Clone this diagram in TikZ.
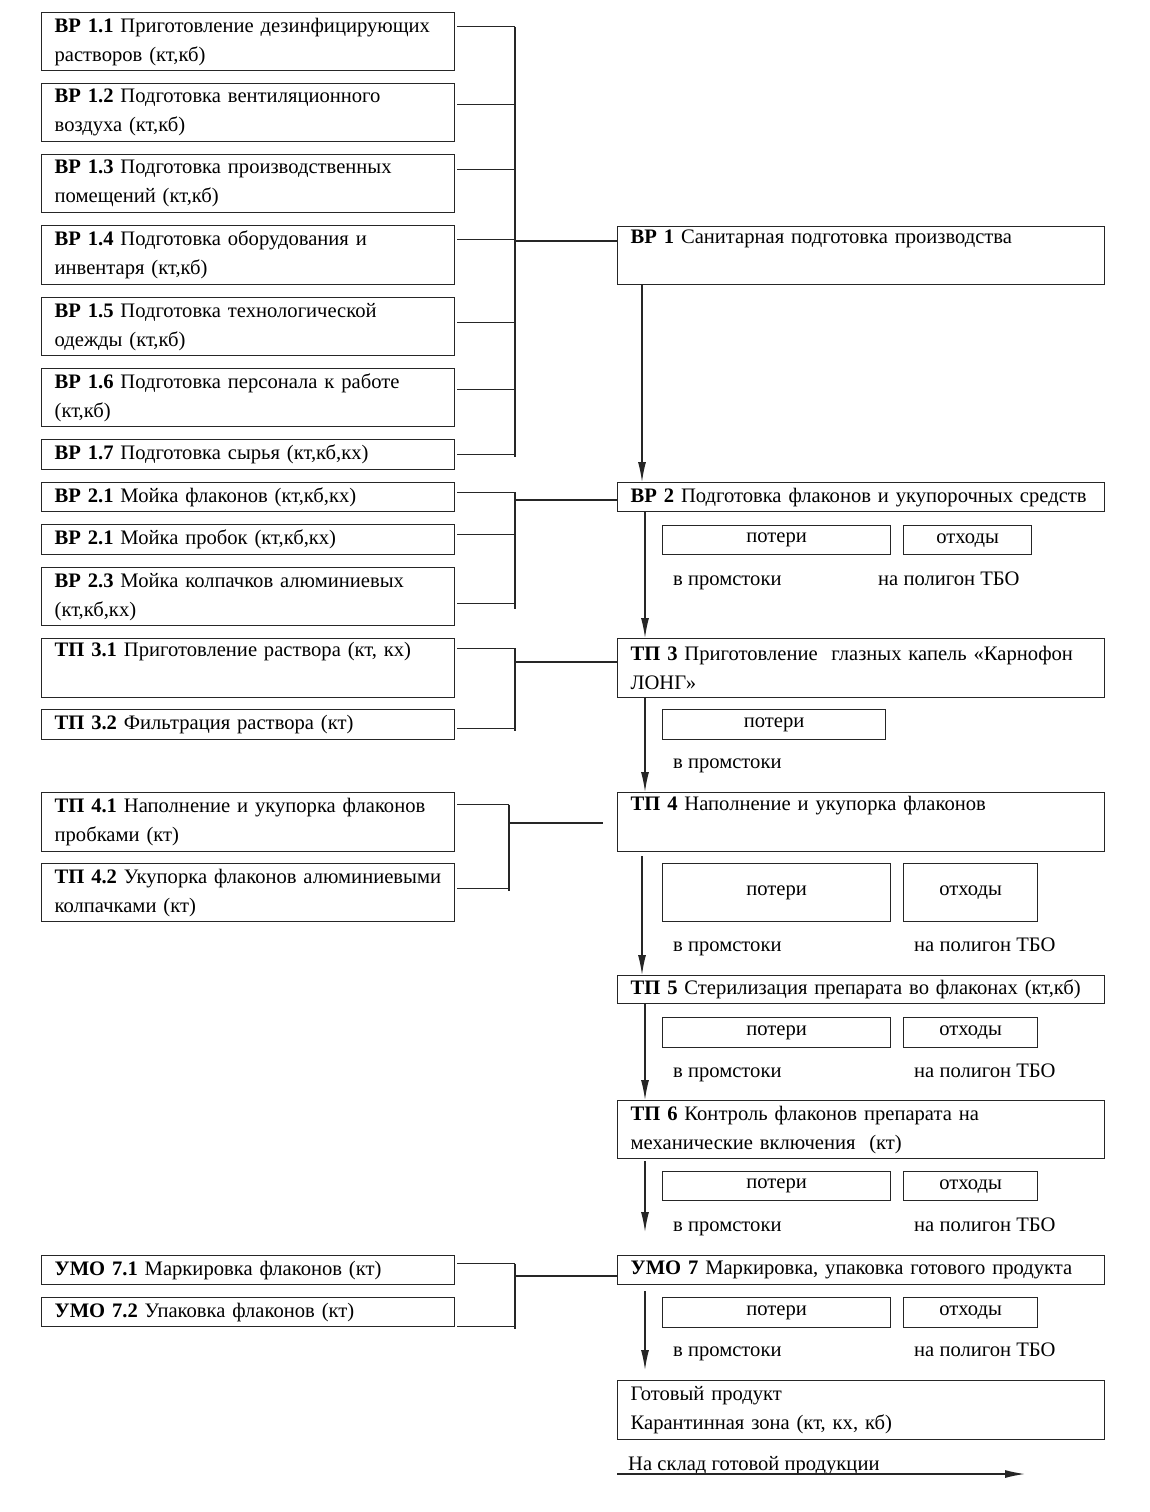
\documentclass[tikz,border=0pt]{standalone}
\usepackage{fontspec}
\setmainfont{Liberation Serif}
\usetikzlibrary{arrows.meta}

\begin{document}
\begin{tikzpicture}[x=1pt,y=-1pt,
  every node/.style={font=\fontsize{20.6}{29}\selectfont},
  sbox/.style={draw=black!85,line width=1.3pt,rectangle,anchor=north west,
    align=left,inner xsep=13pt,inner ysep=0pt,text width=387pt},
  mbox/.style={sbox,text width=461pt},
  lbox/.style={draw=black!85,line width=1.3pt,rectangle,anchor=north west,
    inner sep=0pt,align=center},
  lab/.style={anchor=base west,inner sep=0pt},
  link/.style={draw=black!85,line width=1.3pt},
  flow/.style={link,-{Latex[length=20pt,width=8pt]}}]
\useasboundingbox (0,0) rectangle (1149,1512);

% left column
\node[sbox,minimum height=58pt] (b11) at (41,12) {\textbf{ВР 1.1} Приготовление дезинфицирующих\\растворов (кт,кб)};
\node[sbox,minimum height=58pt] (b12) at (41,83) {\textbf{ВР 1.2} Подготовка вентиляционного\\воздуха (кт,кб)};
\node[sbox,minimum height=58pt] (b13) at (41,154) {\textbf{ВР 1.3} Подготовка производственных\\помещений (кт,кб)};
\node[sbox,minimum height=59pt] (b14) at (41,225) {\textbf{ВР 1.4} Подготовка оборудования и\\инвентаря (кт,кб)};
\node[sbox,minimum height=58pt] (b15) at (41,297) {\textbf{ВР 1.5} Подготовка технологической\\одежды (кт,кб)};
\node[sbox,minimum height=58pt] (b16) at (41,368) {\textbf{ВР 1.6} Подготовка персонала к работе\\(кт,кб)};
\node[sbox,minimum height=30pt] (b17) at (41,439) {\textbf{ВР 1.7} Подготовка сырья (кт,кб,кх)};
\node[sbox,minimum height=29pt] (b21) at (41,482) {\textbf{ВР 2.1} Мойка флаконов (кт,кб,кх)};
\node[sbox,minimum height=30pt] (b22) at (41,524) {\textbf{ВР 2.1} Мойка пробок (кт,кб,кх)};
\node[sbox,minimum height=58pt] (b23) at (41,567) {\textbf{ВР 2.3} Мойка колпачков алюминиевых\\(кт,кб,кх)};
\node[sbox,minimum height=59pt] (t31) at (41,638) {\textbf{ТП 3.1} Приготовление раствора (кт, кх)\\\strut};
\node[sbox,minimum height=30pt] (t32) at (41,709) {\textbf{ТП 3.2} Фильтрация раствора (кт)};
\node[sbox,minimum height=59pt] (t41) at (41,792) {\textbf{ТП 4.1} Наполнение и укупорка флаконов\\пробками (кт)};
\node[sbox,minimum height=58pt] (t42) at (41,863) {\mbox{\textbf{ТП 4.2} Укупорка флаконов алюминиевыми}\\колпачками (кт)};
\node[sbox,minimum height=29pt] (u71) at (41,1255) {\textbf{УМО 7.1} Маркировка флаконов (кт)};
\node[sbox,minimum height=29pt] (u72) at (41,1297) {\textbf{УМО 7.2} Упаковка флаконов (кт)};

% main stages
\node[mbox,minimum height=58pt] (b1) at (617,226) {\textbf{ВР 1} Санитарная подготовка производства\\\strut};
\node[mbox,minimum height=29pt] (b2) at (617,482) {\mbox{\textbf{ВР 2} Подготовка флаконов и укупорочных средств}};
\node[mbox,minimum height=59pt] (t3) at (617,638) {\textbf{ТП 3} Приготовление\ \ глазных капель «Карнофон\\ЛОНГ»};
\node[mbox,minimum height=59pt] (t4) at (617,792) {\textbf{ТП 4} Наполнение и укупорка флаконов\\\strut};
\node[mbox,minimum height=28pt] (t5) at (617,975) {\mbox{\textbf{ТП 5} Стерилизация препарата во флаконах (кт,кб)}};
\node[mbox,minimum height=58pt] (t6) at (617,1100) {\textbf{ТП 6} Контроль флаконов препарата на\\механические включения\ \ (кт)};
\node[mbox,minimum height=29pt] (u7) at (617,1255) {\mbox{\textbf{УМО 7} Маркировка, упаковка готового продукта}};
\node[mbox,minimum height=59pt] (gp) at (617,1380) {Готовый продукт\\Карантинная зона (кт, кх, кб)};

% losses and wastes
\node[lbox,minimum width=228pt,minimum height=29pt] (p2) at (662,525) {потери};
\node[lbox,minimum width=128pt,minimum height=29pt] (o2) at (903,525) {отходы};
\node[lab] (s2) at (673,585) {в промстоки};
\node[lab] (w2) at (878,585) {на полигон ТБО};
\node[lbox,minimum width=223pt,minimum height=30pt] (p3) at (662,709) {потери};
\node[lab] (s3) at (673,768) {в промстоки};
\node[lbox,minimum width=228pt,minimum height=58pt] (p4) at (662,863) {потери};
\node[lbox,minimum width=134pt,minimum height=58pt] (o4) at (903,863) {отходы};
\node[lab] (s4) at (673,951) {в промстоки};
\node[lab] (w4) at (914,951) {на полигон ТБО};
\node[lbox,minimum width=228pt,minimum height=30pt] (p5) at (662,1017) {потери};
\node[lbox,minimum width=134pt,minimum height=30pt] (o5) at (903,1017) {отходы};
\node[lab] (s5) at (673,1077) {в промстоки};
\node[lab] (w5) at (914,1077) {на полигон ТБО};
\node[lbox,minimum width=228pt,minimum height=29pt] (p6) at (662,1171) {потери};
\node[lbox,minimum width=134pt,minimum height=29pt] (o6) at (903,1171) {отходы};
\node[lab] (s6) at (673,1231) {в промстоки};
\node[lab] (w6) at (914,1231) {на полигон ТБО};
\node[lbox,minimum width=228pt,minimum height=30pt] (p7) at (662,1297) {потери};
\node[lbox,minimum width=134pt,minimum height=30pt] (o7) at (903,1297) {отходы};
\node[lab] (s7) at (673,1356) {в промстоки};
\node[lab] (w7) at (914,1356) {на полигон ТБО};
\node[lab] (store) at (628,1470) {На склад готовой продукции};

% bus lines
\coordinate (bus1) at (515,241);
\coordinate (bus2) at (515,500);
\coordinate (bus3) at (515,662);
\coordinate (bus4) at (509,823);
\coordinate (bus7) at (515,1276);
\coordinate (t4in) at (603,823);

\draw[link] ([xshift=2pt,yshift=15pt]b11.east) -- ([yshift=15pt]b11.east -| bus1);
\draw[link] ([xshift=2pt,yshift=8pt]b12.east) -- ([yshift=8pt]b12.east -| bus1);
\draw[link] ([xshift=2pt,yshift=14pt]b13.east) -- ([yshift=14pt]b13.east -| bus1);
\draw[link] ([xshift=2pt,yshift=15.5pt]b14.east) -- ([yshift=15.5pt]b14.east -| bus1);
\draw[link] ([xshift=2pt,yshift=4pt]b15.east) -- ([yshift=4pt]b15.east -| bus1);
\draw[link] ([xshift=2pt,yshift=8pt]b16.east) -- ([yshift=8pt]b16.east -| bus1);
\draw[link] ([xshift=2pt]b17.east) -- (b17.east -| bus1);
\draw[link] ([yshift=15pt]b11.east -| bus1) -- ([yshift=-2pt]b17.east -| bus1);
\draw[link] (bus1) -- (bus1 -| b1.west);

\draw[link] ([xshift=2pt,yshift=5pt]b21.east) -- ([yshift=5pt]b21.east -| bus2);
\draw[link] ([xshift=2pt,yshift=5pt]b22.east) -- ([yshift=5pt]b22.east -| bus2);
\draw[link] ([xshift=2pt,yshift=-7pt]b23.east) -- ([yshift=-7pt]b23.east -| bus2);
\draw[link] ([yshift=5pt]b21.east -| bus2) -- ([yshift=-12pt]b23.east -| bus2);
\draw[link] (bus2) -- (bus2 -| b2.west);

\draw[link] ([xshift=2pt,yshift=20pt]t31.east) -- ([yshift=20pt]t31.east -| bus3);
\draw[link] ([xshift=2pt,yshift=-4pt]t32.east) -- ([yshift=-4pt]t32.east -| bus3);
\draw[link] ([yshift=20pt]t31.east -| bus3) -- ([yshift=-6pt]t32.east -| bus3);
\draw[link] (bus3) -- (bus3 -| t3.west);

\draw[link] ([xshift=2pt,yshift=17.5pt]t41.east) -- ([yshift=17.5pt]t41.east -| bus4);
\draw[link] ([xshift=2pt,yshift=4pt]t42.east) -- ([yshift=4pt]t42.east -| bus4);
\draw[link] ([yshift=17.5pt]t41.east -| bus4) -- ([yshift=2pt]t42.east -| bus4);
\draw[link] (bus4) -- (t4in);

\draw[link] ([xshift=2pt,yshift=6.5pt]u71.east) -- ([yshift=6.5pt]u71.east -| bus7);
\draw[link] ([xshift=2pt,yshift=-14.5pt]u72.east) -- ([yshift=-14.5pt]u72.east -| bus7);
\draw[link] ([yshift=6.5pt]u71.east -| bus7) -- ([yshift=-16.5pt]u72.east -| bus7);
\draw[link] (bus7) -- (bus7 -| u7.west);

% main flow
\draw[flow] ([xshift=25pt]b1.south west) -- ([xshift=25pt]b2.north west);
\draw[flow] ([xshift=28pt]b2.south west) -- ([xshift=28pt]t3.north west);
\draw[flow] ([xshift=28pt]t3.south west) -- ([xshift=28pt]t4.north west);
\draw[flow] ([xshift=25pt,yshift=-4pt]t4.south west) -- ([xshift=25pt]t5.north west);
\draw[flow] ([xshift=28pt]t5.south west) -- ([xshift=28pt]t6.north west);
\draw[flow] ([xshift=28pt,yshift=-2pt]t6.south west) -- ([xshift=28pt,yshift=23pt]u7.north west);
\draw[flow] ([xshift=28pt,yshift=-6pt]u7.south west) -- ([xshift=28pt,yshift=10pt]gp.north west);

\coordinate (storeL) at (617,1474);
\coordinate (storeR) at (1025,1474);
\draw[flow] (storeL) -- (storeR);
\end{tikzpicture}
\end{document}
